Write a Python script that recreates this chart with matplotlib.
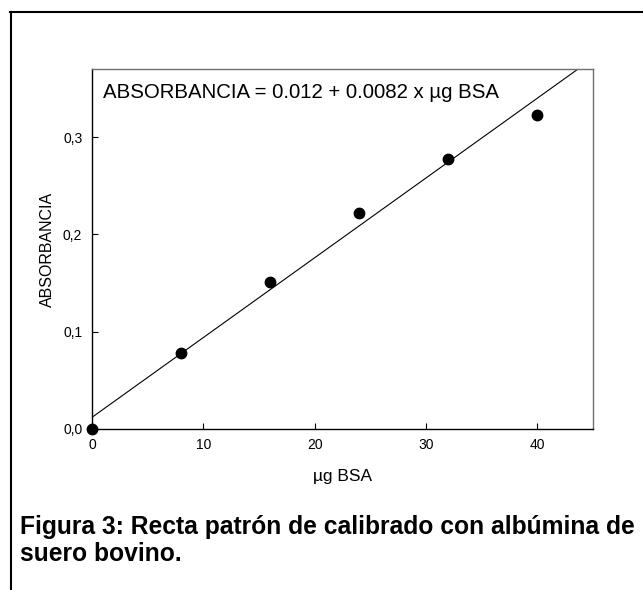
import matplotlib
matplotlib.use("Agg")
import matplotlib.pyplot as plt
import numpy as np
from matplotlib.lines import Line2D

plt.rcParams['font.family'] = ['Liberation Sans', 'DejaVu Sans']

# Data
bsa_ug = [0, 8, 16, 24, 32, 40]
absorbance = [0.0, 0.078, 0.151, 0.222, 0.277, 0.323]
intercept = 0.012
slope = 0.0082
x_ticks = [0, 10, 20, 30, 40]
y_ticks = [0.0, 0.1, 0.2, 0.3]
y_tick_labels = ['0,0', '0,1', '0,2', '0,3']
equation = 'ABSORBANCIA = 0.012 + 0.0082 x µg BSA'
caption = 'Figura 3: Recta patrón de calibrado con albúmina de\nsuero bovino.'

W, H = 643, 590
fig = plt.figure(figsize=(W / 100, H / 100), dpi=100)

# Outer frame (top and left only)
fig.add_artist(Line2D([10 / W, 1.0], [1 - 11.5 / H, 1 - 11.5 / H], color='black', lw=1.5,
                      transform=fig.transFigure))
fig.add_artist(Line2D([10.5 / W, 10.5 / W], [0, 1 - 11.5 / H], color='black', lw=1.5,
                      transform=fig.transFigure))

ax = fig.add_axes([92 / W, 1 - 429 / H, (593 - 92) / W, (429 - 69) / H])
ax.set_xlim(0, 45)
ax.set_ylim(0, 0.37)

xs = np.array([0, 45])
ax.plot(xs, intercept + slope * xs, color='black', lw=0.8, clip_on=True)
ax.plot(bsa_ug, absorbance, 'o', color='black', markersize=7.5, clip_on=False, zorder=5)

ax.set_xticks(x_ticks)
ax.set_yticks(y_ticks)
ax.set_yticklabels(y_tick_labels)
ax.tick_params(direction='in', length=4, width=0.8, labelsize=10, colors='black')
ax.tick_params(axis='x', pad=6.5)
ax.tick_params(axis='y', pad=7)

for s in ['left', 'bottom']:
    ax.spines[s].set_color('black')
    ax.spines[s].set_linewidth(1.0)
for s in ['top', 'right']:
    ax.spines[s].set_color('#707070')
    ax.spines[s].set_linewidth(1.0)

ax.set_xlabel('µg BSA', fontsize=12.5, labelpad=12)
ax.set_ylabel('ABSORBANCIA', fontsize=11.5, labelpad=6)

ax.text(103 / W, 1 - 92 / H, equation, transform=fig.transFigure, fontsize=14.7,
        va='center', ha='left')

fig.text(20 / W, 1 - 540.5 / H, caption, fontsize=17.7, fontweight='bold',
         va='center', ha='left', linespacing=1.2)

fig.savefig('out.png', dpi=100)
